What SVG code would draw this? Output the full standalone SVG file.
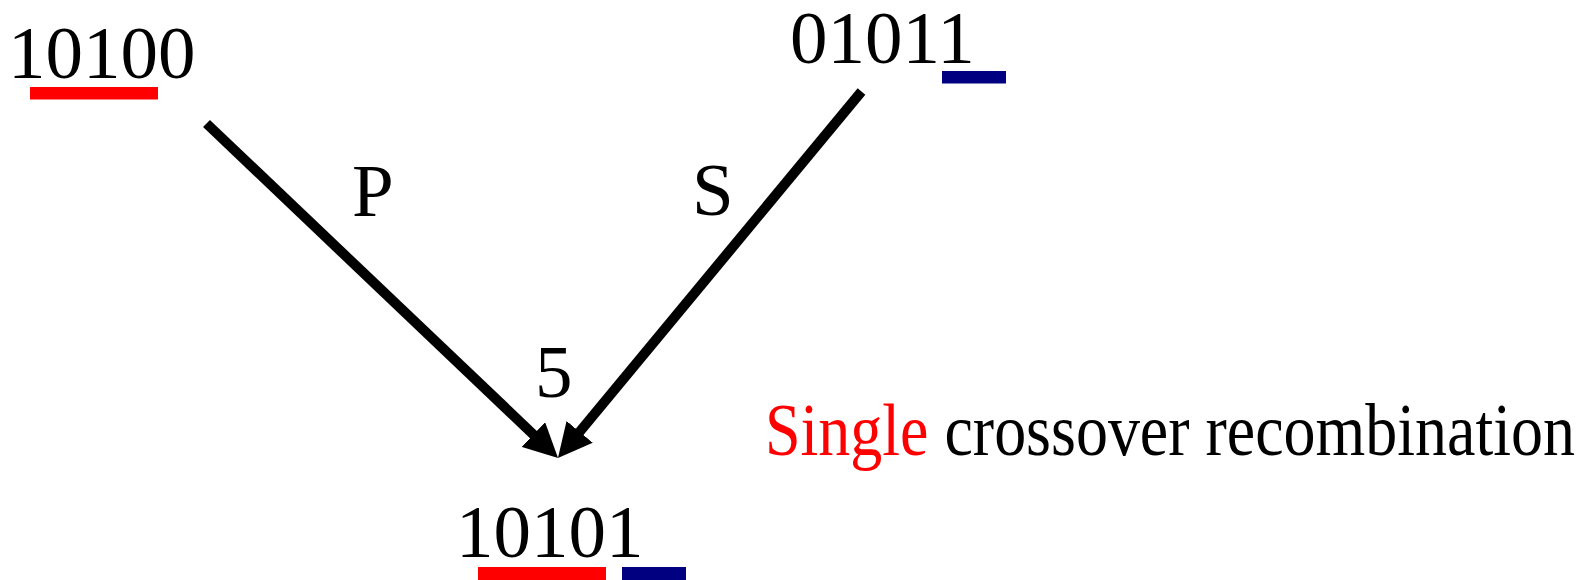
<svg xmlns="http://www.w3.org/2000/svg" width="1588" height="580" viewBox="0 0 1588 580">
  <style>
    .t { font-family: "Liberation Serif", "Times New Roman", serif; font-size: 75px; fill: #000; }
    .red { fill: #FF0000; }
    .blue { fill: #000080; }
    .conn { stroke: #000; stroke-width: 10; fill: none; stroke-linecap: butt; }
  </style>
  <defs>
    <marker id="arrow" markerUnits="userSpaceOnUse" viewBox="-4 -17 34 34" markerWidth="34" markerHeight="34" refX="0" refY="0" orient="auto">
      <path d="M-4,-17 L30,0 L-4,17 Z" fill="#000"/>
    </marker>
  </defs>
  <rect width="1588" height="580" fill="#fff"/>

  <g id="node-parent1">
    <text class="t" x="8" y="78">10100</text>
    <rect class="red" x="30" y="87" width="128" height="12.5"/>
  </g>

  <g id="node-parent2">
    <text class="t" x="790" y="63">01011</text>
    <rect class="blue" x="942" y="71" width="64" height="12.5"/>
  </g>

  <g id="node-child">
    <text class="t" x="456" y="557">10101</text>
    <rect class="red" x="478" y="567" width="128" height="13"/>
    <rect class="blue" x="622" y="567" width="64" height="13"/>
  </g>

  <g id="connectors">
    <line class="conn" x1="206.5" y1="123.5" x2="536.3" y2="437.3" marker-end="url(#arrow)"/>
    <line class="conn" x1="861.5" y1="91.5" x2="577.1" y2="434.9" marker-end="url(#arrow)"/>
    <text class="t" x="352" y="216">P</text>
    <text class="t" x="692" y="215">S</text>
    <text class="t" x="535" y="397">5</text>
  </g>

  <g id="caption">
    <text class="t" transform="translate(765,455) scale(0.853,1)" x="0" y="0"><tspan class="red">Single</tspan> crossover recombination</text>
  </g>
</svg>
